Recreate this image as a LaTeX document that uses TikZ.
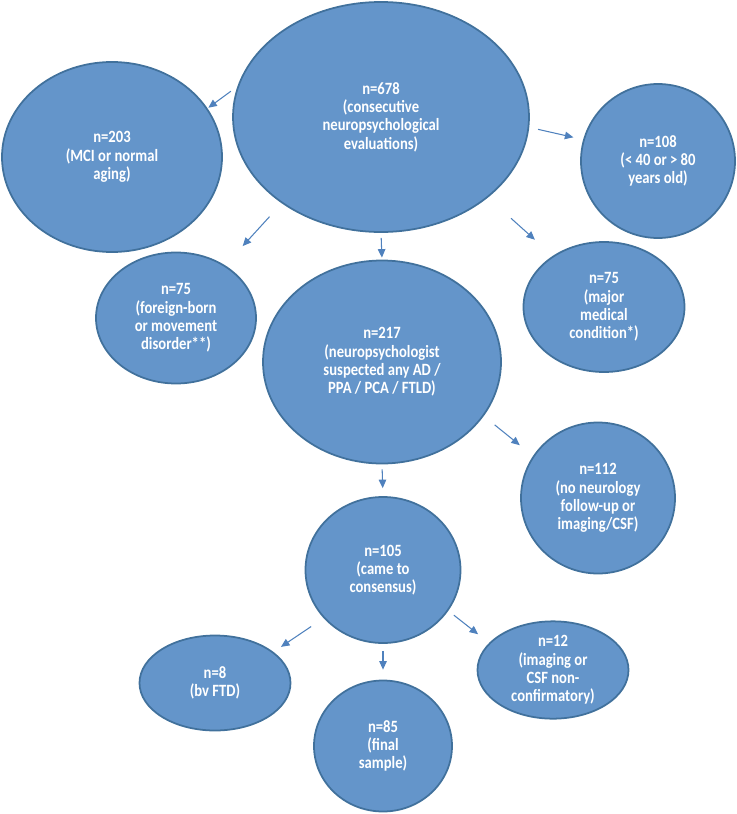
\documentclass[tikz,border=0pt]{standalone}
\usepackage{fontspec}
\setmainfont{Carlito}
\newfontfamily\groupfont{Carlito}[FakeStretch=0.85]
\usetikzlibrary{
    arrows.meta,
    positioning,
    shapes.geometric
}
\definecolor{bubblefill}{HTML}{6495CA}
\definecolor{bubbleline}{HTML}{41719C}
\definecolor{flowarrow}{HTML}{4F81BD}
\tikzset{
    % --- Group of patients (ellipse) ---
    group/.style = {
        ellipse, draw=bubbleline, fill=bubblefill, line width=1pt,
        inner sep=0pt, align=center, text=white,
        font=\groupfont\bfseries\fontsize{9.8}{10.4}\selectfont
    },
    % --- Exclusion / selection arrow ---
    flow arrow/.style = {
        -{Triangle[length=1.7mm,width=1.5mm]}, draw=flowarrow, line width=0.6pt
    }
}

\begin{document}
\begin{tikzpicture}[
    >=Stealth
]

\useasboundingbox (0,0) rectangle (14.72,-16.28);

% ---------------------------------------------------------
% 1. Start: all evaluations
% ---------------------------------------------------------
\node[group, minimum width=5.92cm, minimum height=4.6cm] (All) at (7.62, -2.34)
    {n=678\\(consecutive\\neuropsychological\\evaluations)};

% ---------------------------------------------------------
% 2. First exclusions
% ---------------------------------------------------------
\node[group, minimum width=4.4cm, minimum height=3.8cm] (MCI) at (2.24, -3.14)
    {n=203\\(MCI or normal\\aging)};
\node[group, minimum width=3.08cm, minimum height=3.08cm] (Age) at (13.16, -3.22)
    {n=108\\(< 40 or > 80\\years old)};
\node[group, minimum width=3.2cm, minimum height=2.62cm] (Foreign) at (3.52, -6.36)
    {n=75\\(foreign-born\\or movement\\disorder**)};
\node[group, minimum width=3.22cm, minimum height=2.6cm] (Medical) at (12.08, -6.14)
    {n=75\\(major\\medical\\condition*)};

% ---------------------------------------------------------
% 3. Suspected and consensus
% ---------------------------------------------------------
\node[group, minimum width=4.76cm, minimum height=4.06cm] (Suspect) at (7.64, -7.24)
    {n=217\\(neuropsychologist\\suspected any AD /\\PPA / PCA / FTLD)};
\node[group, minimum width=3.08cm, minimum height=3.02cm] (NoFollow) at (11.96, -9.96)
    {n=112\\(no neurology\\follow-up or\\imaging/CSF)};
\node[group, minimum width=3.1cm, minimum height=2.92cm] (Consensus) at (7.66, -11.40)
    {n=105\\(came to\\consensus)};

% ---------------------------------------------------------
% 4. Final split
% ---------------------------------------------------------
\node[group, minimum width=3.02cm, minimum height=1.9cm] (BvFTD) at (4.30, -13.66)
    {n=8\\(bv FTD)};
\node[group, minimum width=2.76cm, minimum height=2.62cm] (Final) at (7.66, -14.92)
    {n=85\\(final\\sample)};
\node[group, minimum width=3.02cm, minimum height=1.9cm] (NonConf) at (11.06, -13.40)
    {n=12\\(imaging or\\CSF non-\\confirmatory)};

% ---------------------------------------------------------
% 5. Arrows (free floating between the groups)
% ---------------------------------------------------------
\draw[flow arrow, shorten <=1.6mm, shorten >=0.2mm] (All.168) -- (MCI.27);
\draw[flow arrow, shorten <=1.8mm, shorten >=2mm] (All.-4) -- (Age.164);
\draw[flow arrow, shorten <=3.6mm, shorten >=5.2mm] (All.221) -- (Foreign.47);
\draw[flow arrow, shorten <=1mm, shorten >=0.4mm] (All.south) -- (Suspect.north);
\draw[flow arrow, shorten <=6.2mm, shorten >=4.8mm] (All.-37) -- (Medical.135);

\draw[flow arrow, shorten <=2.8mm, shorten >=3.4mm] (Suspect.-28) -- (NoFollow.147);
\draw[flow arrow, shorten <=1mm, shorten >=1.6mm] (Suspect.south) -- (Consensus.north);

\draw[flow arrow, shorten <=3mm, shorten >=1.8mm] (Consensus.219) -- (BvFTD.28);
\draw[flow arrow, shorten <=1.4mm, shorten >=2mm] (Consensus.south) -- (Final.north);
\draw[flow arrow, shorten <=1.4mm, shorten >=2.8mm] (Consensus.-32) -- (NonConf.157);

\end{tikzpicture}
\end{document}
